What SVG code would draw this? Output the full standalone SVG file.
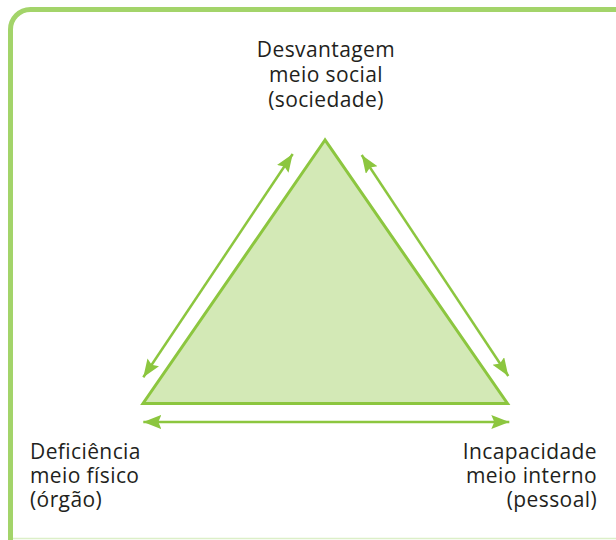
<svg xmlns="http://www.w3.org/2000/svg" width="616" height="540" viewBox="0 0 616 540">
  <style>
    .lbl { font-family: "Open Sans", "Noto Sans", "Liberation Sans", sans-serif; font-size: 21px; letter-spacing: 0.4px; fill: #231f20; }
    .conn { stroke: #8cc63f; stroke-width: 2.5; fill: none; marker-start: url(#ah); marker-end: url(#ah); }
  </style>
  <defs>
    <marker id="ah" markerUnits="userSpaceOnUse" markerWidth="20" markerHeight="16" refX="18" refY="7" orient="auto-start-reverse" viewBox="0 0 20 16">
      <path d="M0,0 L18,7 L0,14 L3,7 Z" fill="#8cc63f"/>
    </marker>
  </defs>
  <rect width="616" height="540" fill="#ffffff"/>
  <g id="frame">
    <path d="M10.5,545 L10.5,30 A20,20 0 0 1 30.5,9.5 L620,9.5" fill="none" stroke="#a3d46a" stroke-width="5"/>
    <line x1="13" y1="538.5" x2="616" y2="538.5" stroke="#dcefc8" stroke-width="1.5"/>
  </g>
  <g id="triangle">
    <polygon points="325,140 143,403.5 507.5,403.5" fill="#d3e9b6" stroke="#8cc63f" stroke-width="3" stroke-linejoin="miter"/>
  </g>
  <g id="connectors">
    <line class="conn" x1="143.3" y1="377.3" x2="292.7" y2="154"/>
    <line class="conn" x1="361.7" y1="155" x2="508.3" y2="376"/>
    <line class="conn" x1="143.3" y1="422" x2="509.3" y2="422"/>
  </g>
  <g id="node-desvantagem">
    <text class="lbl" x="326" y="57" text-anchor="middle">Desvantagem</text>
    <text class="lbl" x="326" y="82" text-anchor="middle">meio social</text>
    <text class="lbl" x="326" y="107" text-anchor="middle">(sociedade)</text>
  </g>
  <g id="node-deficiencia">
    <text class="lbl" x="30" y="459">Deficiência</text>
    <text class="lbl" x="30" y="483">meio físico</text>
    <text class="lbl" x="30" y="507">(órgão)</text>
  </g>
  <g id="node-incapacidade">
    <text class="lbl" x="597" y="459" text-anchor="end">Incapacidade</text>
    <text class="lbl" x="597" y="483" text-anchor="end">meio interno</text>
    <text class="lbl" x="597" y="507" text-anchor="end">(pessoal)</text>
  </g>
</svg>
